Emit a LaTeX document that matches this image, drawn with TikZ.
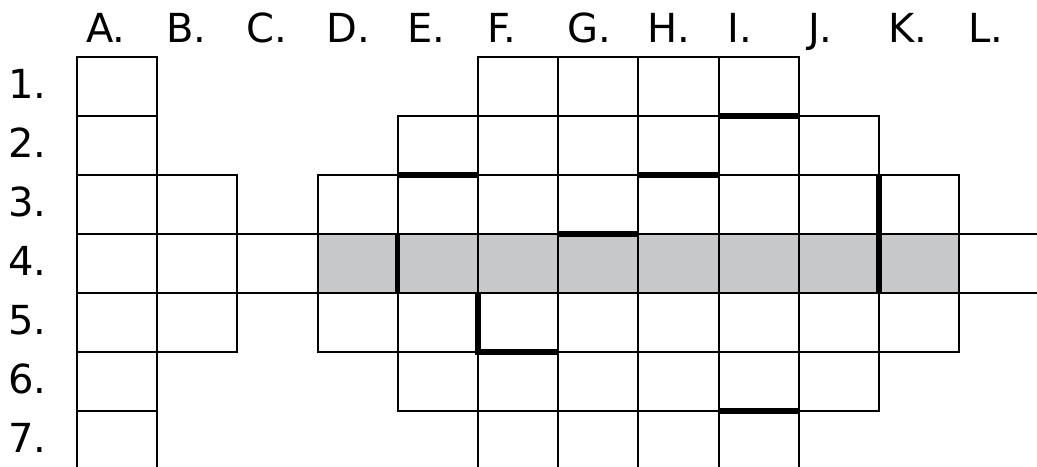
\documentclass[tikz,border=0pt]{standalone}
\usepackage{fontspec}
\setmainfont{DejaVu Sans}
\definecolor{rowgray}{RGB}{199,200,202}

\begin{document}
\begin{tikzpicture}[x=40.1pt,y=-29.5pt,
  cell/.style={draw,line width=1pt},
  wall/.style={line width=2.6pt},
  lbl/.style={font=\fontsize{20}{24}\selectfont,inner sep=0pt,anchor=base west}]
  \useasboundingbox (-0.960,-0.966) rectangle (11.970,6.949);

  \fill[rowgray] (3,3) rectangle (11,4);

  \foreach \c in {0,5,6,7,8} \draw[cell] (\c,0) rectangle ++(1,1);
  \foreach \c in {0,4,5,6,7,8,9} \draw[cell] (\c,1) rectangle ++(1,1);
  \foreach \c in {0,1,3,4,5,6,7,8,9,10} \draw[cell] (\c,2) rectangle ++(1,1);
  \foreach \c in {0,1,2,3,4,5,6,7,8,9,10} \draw[cell] (\c,3) rectangle ++(1,1);
  \foreach \c in {0,1,3,4,5,6,7,8,9,10} \draw[cell] (\c,4) rectangle ++(1,1);
  \foreach \c in {0,4,5,6,7,8,9} \draw[cell] (\c,5) rectangle ++(1,1);
  \foreach \c in {0,5,6,7,8} \draw[cell] (\c,6) rectangle ++(1,1);
  \draw[cell] (11,3) -- (12.5,3) (11,4) -- (12.5,4);

  \draw[wall] (8,1) -- (9,1);
  \draw[wall] (4,2) -- (5,2);
  \draw[wall] (7,2) -- (8,2);
  \draw[wall] (6,3) -- (7,3);
  \draw[wall] (4,3) -- (4,4);
  \draw[wall] (10,2) -- (10,4);
  \draw[wall] (5,4) -- (5,5) -- (6,5);
  \draw[wall] (8,6) -- (9,6);

  \foreach \l [count=\i from 0] in {A,B,C,D,E,F,G,H,I,J,K,L}
    \node[lbl] (col\l) at (\i+0.11,-0.254) {\l.};
  \foreach \n in {1,...,7}
    \node[lbl] (row\n) at (-0.86,\n-0.305) {\n.};
\end{tikzpicture}
\end{document}
